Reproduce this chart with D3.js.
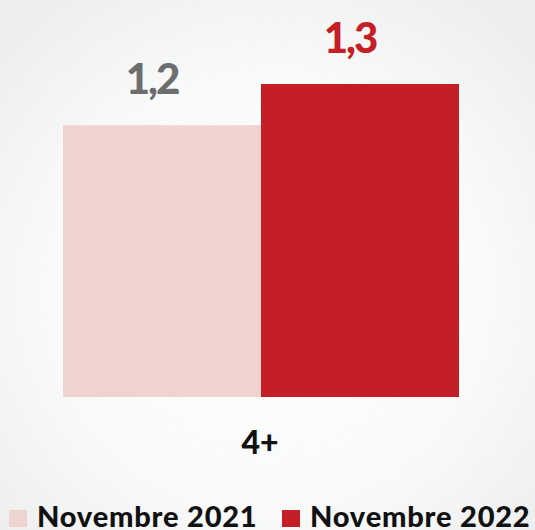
<!DOCTYPE html>
<html>
<head>
<meta charset="utf-8">
<script src="https://cdn.jsdelivr.net/npm/d3@7"></script>
<style>
  html, body { margin: 0; padding: 0; }
  body { width: 535px; height: 530px; overflow: hidden; }
  text { font-family: Lato, "Open Sans", sans-serif; font-weight: 900; }
</style>
</head>
<body>
<div id="chart"></div>
<script>
// data
const categories = ["4+"];
const series = ["Novembre 2021", "Novembre 2022"];
const values = [1.2, 1.3];
const labels = ["1,2", "1,3"];
const colors = ["#efd3d1", "#c41f26"];
const labelColors = ["#6b6d6e", "#c41f26"];

const width = 535;
const height = 530;

const svg = d3.select("#chart")
  .append("svg")
    .attr("width", width)
    .attr("height", height);

// soft background
const defs = svg.append("defs");
const grad = defs.append("radialGradient")
    .attr("id", "bg")
    .attr("cx", "50%").attr("cy", "55%").attr("r", "70%");
grad.append("stop").attr("offset", "0%").attr("stop-color", "#ffffff");
grad.append("stop").attr("offset", "60%").attr("stop-color", "#f8f9f9");
grad.append("stop").attr("offset", "100%").attr("stop-color", "#eceeee");

svg.append("rect")
    .attr("width", width)
    .attr("height", height)
    .attr("fill", "url(#bg)");

// scales
const x0 = d3.scaleBand()
  .domain(categories)
  .range([63, 459])
  .padding(0);

const x1 = d3.scaleBand()
  .domain(series)
  .range([0, x0.bandwidth()])
  .padding(0);

const y = d3.scaleLinear()
  .domain([0.54, 1.3])
  .range([397, 84]);

const data = series.map((s, i) => ({series: s, value: values[i], label: labels[i], i: i}));

const g = svg.append("g")
    .attr("transform", `translate(${x0(categories[0])},0)`);

// bars
g.selectAll("rect.bar")
  .data(data)
  .join("rect")
    .attr("class", "bar")
    .attr("x", d => x1(d.series))
    .attr("y", d => y(d.value))
    .attr("width", x1.bandwidth())
    .attr("height", d => y(y.domain()[0]) - y(d.value))
    .attr("fill", d => colors[d.i]);

// value labels
g.selectAll("text.val")
  .data(data)
  .join("text")
    .attr("class", "val")
    .attr("x", d => x1(d.series) + x1.bandwidth() / 2 - 10)
    .attr("y", d => y(d.value) - 31)
    .attr("text-anchor", "middle")
    .attr("font-size", 42)
    .attr("letter-spacing", -2)
    .attr("fill", d => labelColors[d.i])
    .text(d => d.label);

// category label
svg.selectAll("text.cat")
  .data(categories)
  .join("text")
    .attr("class", "cat")
    .attr("x", d => x0(d) + x0.bandwidth() / 2 - 1)
    .attr("y", 454)
    .attr("text-anchor", "middle")
    .attr("font-size", 32)
    .attr("fill", "#111")
    .text(d => d);

// legend
const legendX = [9, 282];
const legend = svg.selectAll("g.legend")
  .data(series)
  .join("g")
    .attr("class", "legend")
    .attr("transform", (d, i) => `translate(${legendX[i]},510)`);

legend.append("rect")
    .attr("width", 18)
    .attr("height", 17)
    .attr("fill", (d, i) => colors[i]);

legend.append("text")
    .attr("x", 28)
    .attr("y", 17)
    .attr("font-size", 29)
    .attr("letter-spacing", 0.8)
    .attr("fill", "#111")
    .text(d => d);
</script>
</body>
</html>
